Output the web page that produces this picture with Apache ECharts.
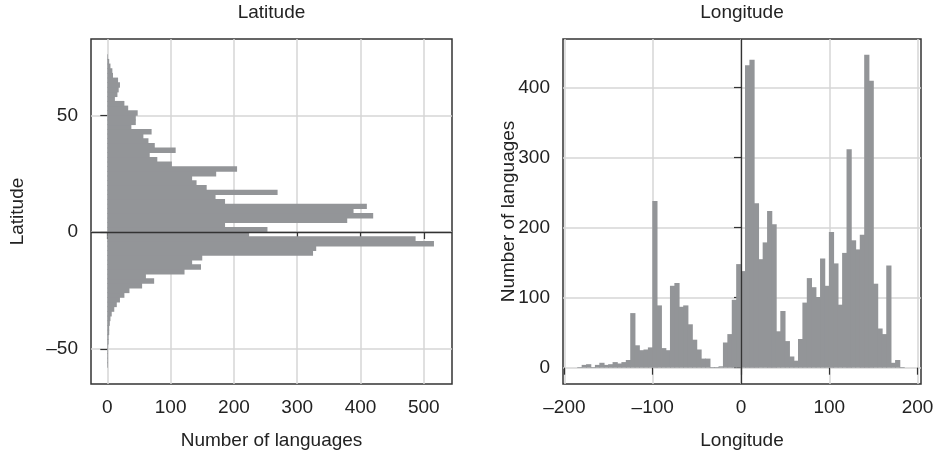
<!DOCTYPE html>
<html>
<head>
<meta charset="utf-8">
<script src="https://cdn.jsdelivr.net/npm/echarts@6/dist/echarts.min.js"></script>
<style>
html, body { margin: 0; padding: 0; background: #fff; }
#chart { width: 935px; height: 452px; }
</style>
</head>
<body>
<div id="chart"></div>
<script>
'use strict';

// latitude histogram: 2-degree bins, lower edge starts at -58
const latBinStart = -58;
const latBinWidth = 2;
const latCounts = [
    1, 1, 1, 1, 1, 2, 2, 3, 3, 4, 5, 7, 11, 15, 20, 27, 35, 55, 74, 61,
    122, 148, 134, 150, 325, 330, 516, 487, 224,
    253, 186, 379, 420, 389, 410, 186, 171, 269, 157, 141, 134, 172, 205,
    102, 79, 67, 108, 75, 65, 57, 70, 38, 45, 45, 48, 33, 27, 12, 16, 18,
    20, 17, 9, 8, 5, 3, 1
];

// longitude histogram: 5-degree bins, lower edge starts at -185
const lonBinStart = -185;
const lonBinWidth = 5;
const lonCounts = [
    1, 4, 5, 1, 4, 7, 4, 5, 8, 6, 8, 11, 78, 32, 25, 26, 29, 238, 89, 28,
    25, 117, 121, 87, 89, 62, 40, 26, 13, 13, 1, 1, 2, 36, 48, 97, 148,
    138, 432, 440, 235, 155, 179, 224, 205, 52, 81, 38, 16, 10, 41, 93, 128,
    115, 101, 156, 117, 194, 149, 90, 164, 312, 182, 169, 190, 447, 410, 120,
    56, 48, 146, 7, 11, 1
];

// tick labels
const latCountTicks = [0, 100, 200, 300, 400, 500];
const latTicks = [-50, 0, 50];
const lonTicks = [-200, -100, 0, 100, 200];
const lonCountTicks = [0, 100, 200, 300, 400];

const BAR = '#939598';
const FRAME = '#333333';
const GRIDLINE = '#d6d6d6';
const TEXT = '#222222';
const FONT = "'Liberation Sans', Arial, sans-serif";
const FS = 19;

const fmt = v => String(v).replace('-', '\u2013');

// value axis with fixed tick positions, Stata-like look
function tickAxis(values, margin, extra) {
    return Object.assign({
        type: 'value',
        axisLine: { show: false },
        axisTick: { show: true, length: 7, customValues: values, lineStyle: { color: FRAME, width: 1.2 } },
        axisLabel: { customValues: values, formatter: fmt, color: TEXT, fontFamily: FONT, fontSize: FS, margin: margin },
        splitLine: { show: true, lineStyle: { color: GRIDLINE, width: 1.5 } },
        nameTextStyle: { color: TEXT, fontFamily: FONT, fontSize: FS },
        nameLocation: 'middle',
        nameMoveOverlap: false
    }, extra);
}

const latData = latCounts.map((c, i) => [c, latBinStart + i * latBinWidth]);
const lonData = lonCounts.map((c, i) => [lonBinStart + i * lonBinWidth, c]);

const chart = echarts.init(document.getElementById('chart'), null, { renderer: 'canvas' });

const zeroLine = axisKey => ({
    silent: true,
    symbol: 'none',
    label: { show: false },
    animation: false,
    lineStyle: { color: FRAME, width: 1.3, type: 'solid' },
    data: [{ [axisKey]: 0 }]
});

const option = {
    animation: false,
    graphic: [
        { type: 'text', x: 271.5, y: 13, style: { text: 'Latitude', font: `${FS}px ${FONT}`, fill: TEXT, align: 'center', verticalAlign: 'middle' } },
        { type: 'text', x: 742, y: 13, style: { text: 'Longitude', font: `${FS}px ${FONT}`, fill: TEXT, align: 'center', verticalAlign: 'middle' } }
    ],
    grid: [
        { left: 91, right: 483, top: 39, bottom: 68, show: true, borderColor: FRAME, borderWidth: 1.5, containLabel: false, outerBoundsMode: 'none' },
        { left: 563, right: 14, top: 39, bottom: 68, show: true, borderColor: FRAME, borderWidth: 1.5, containLabel: false, outerBoundsMode: 'none' }
    ],
    xAxis: [
        tickAxis(latCountTicks, 14, { gridIndex: 0, min: -25.75, max: 544.5, name: 'Number of languages', nameGap: 47 }),
        tickAxis(lonTicks, 14, { gridIndex: 1, min: -201.6, max: 203.9, name: 'Longitude', nameGap: 47 })
    ],
    yAxis: [
        tickAxis(latTicks, 13, { gridIndex: 0, min: -65.1, max: 82.7, name: 'Latitude', nameGap: 64 }),
        tickAxis(lonCountTicks, 13, { gridIndex: 1, min: -23.3, max: 469.6, name: 'Number of languages', nameGap: 45 })
    ],
    series: [
        {
            name: 'Latitude',
            type: 'custom',
            xAxisIndex: 0,
            yAxisIndex: 0,
            data: latData,
            encode: { x: 0, y: 1 },
            renderItem: (params, api) => {
                const lo = api.value(1);
                const a = api.coord([0, lo]);
                const b = api.coord([api.value(0), lo + latBinWidth]);
                return {
                    type: 'rect',
                    shape: { x: a[0], y: b[1] - 0.4, width: b[0] - a[0], height: a[1] - b[1] + 0.8 },
                    style: { fill: BAR }
                };
            },
            markLine: zeroLine('yAxis')
        },
        {
            name: 'Longitude',
            type: 'custom',
            xAxisIndex: 1,
            yAxisIndex: 1,
            data: lonData,
            encode: { x: 0, y: 1 },
            renderItem: (params, api) => {
                const lo = api.value(0);
                const a = api.coord([lo, 0]);
                const b = api.coord([lo + lonBinWidth, api.value(1)]);
                return {
                    type: 'rect',
                    shape: { x: a[0] - 0.4, y: b[1], width: b[0] - a[0] + 0.8, height: a[1] - b[1] },
                    style: { fill: BAR }
                };
            },
            markLine: zeroLine('xAxis')
        }
    ]
};

chart.setOption(option);
</script>
</body>
</html>
